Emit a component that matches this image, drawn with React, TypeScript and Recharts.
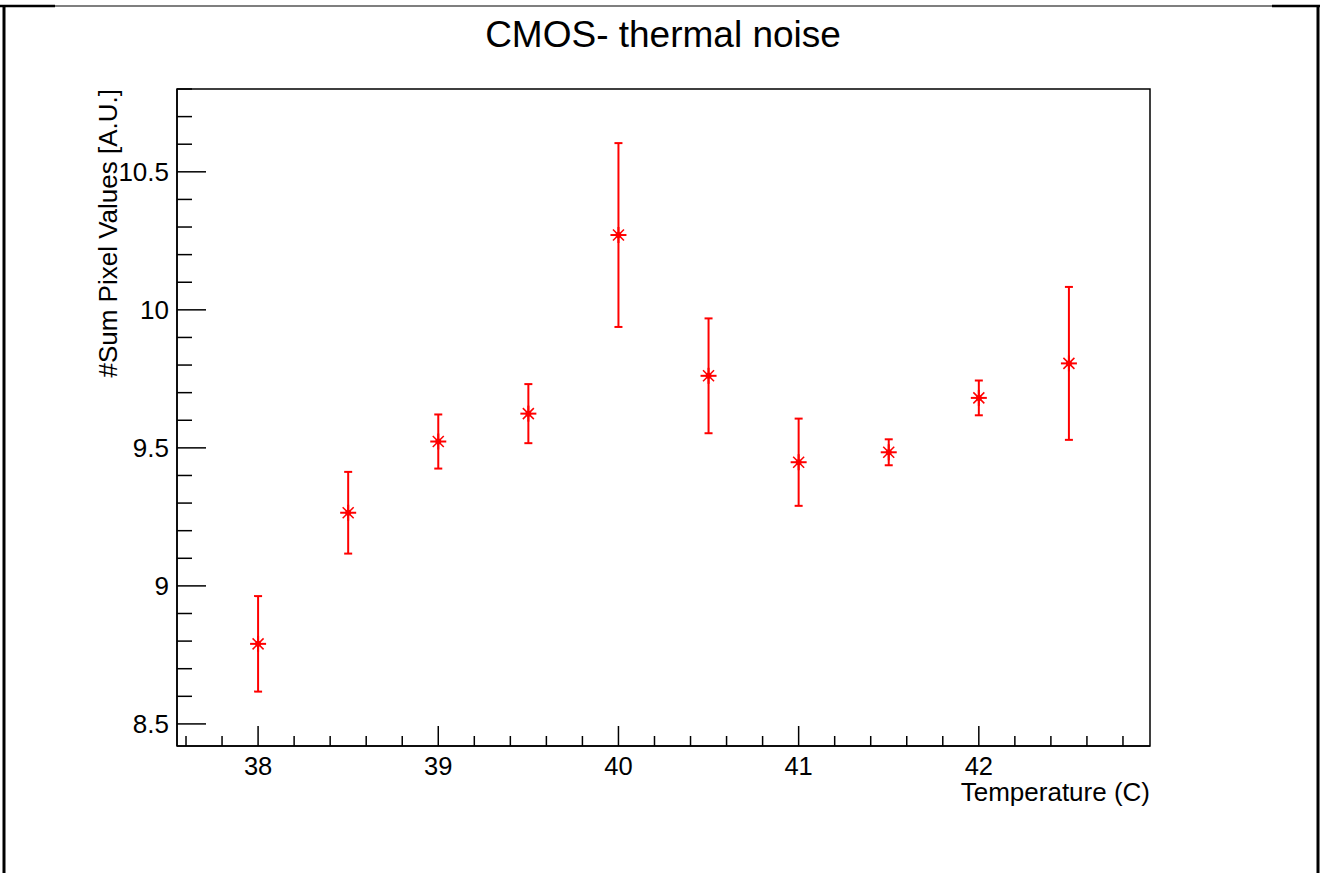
import { ScatterChart, Scatter, XAxis, YAxis, ErrorBar, ReferenceArea, Label } from 'recharts';

// temperature points and the measured sum of pixel values (+/- error)
const temperatures = [38, 38.5, 39, 39.5, 40, 40.5, 41, 41.5, 42, 42.5];
const sumPixel = [8.79, 9.265, 9.523, 9.624, 10.271, 9.761, 9.448, 9.484, 9.681, 9.806];
const sumPixelErr = [0.173, 0.148, 0.098, 0.107, 0.333, 0.208, 0.158, 0.047, 0.063, 0.277];

const xTicks = [
  37.6, 37.8, 38, 38.2, 38.4, 38.6, 38.8, 39, 39.2, 39.4, 39.6, 39.8, 40, 40.2,
  40.4, 40.6, 40.8, 41, 41.2, 41.4, 41.6, 41.8, 42, 42.2, 42.4, 42.6, 42.8,
];
const xLabels = [38, 39, 40, 41, 42];
const yTicks = [
  8.5, 8.6, 8.7, 8.8, 8.9, 9, 9.1, 9.2, 9.3, 9.4, 9.5, 9.6, 9.7, 9.8, 9.9, 10,
  10.1, 10.2, 10.3, 10.4, 10.5, 10.6, 10.7, 10.8,
];
const yLabels = [8.5, 9, 9.5, 10, 10.5];

const X_DOMAIN: [number, number] = [37.55, 42.95];
const Y_DOMAIN: [number, number] = [8.42, 10.8];

const FONT = '"Liberation Sans", Arial, Helvetica, sans-serif';
const RED = '#ff0000';

const data = temperatures.map((t, i) => ({ x: t, y: sumPixel[i], err: sumPixelErr[i] }));

const isLabel = (list: number[], v: number) => list.some((l) => Math.abs(l - v) < 1e-6);

const XTick = (props: any) => {
  const { x, y, payload } = props;
  const major = isLabel(xLabels, payload.value);
  return (
    <g>
      <line x1={x} y1={y} x2={x} y2={y - (major ? 20 : 10)} stroke="#000" strokeWidth={1.5} />
      {major && (
        <text x={x} y={y + 29} textAnchor="middle" fontSize={25.5} fontFamily={FONT} fill="#000">
          {payload.value}
        </text>
      )}
    </g>
  );
};

const YTick = (props: any) => {
  const { x, y, payload } = props;
  const major = isLabel(yLabels, payload.value);
  return (
    <g>
      <line x1={x} y1={y} x2={x + (major ? 29 : 15)} y2={y} stroke="#000" strokeWidth={1.5} />
      {major && (
        <text x={x - 8} y={y} dy="0.36em" textAnchor="end" fontSize={26} fontFamily={FONT} fill="#000">
          {payload.value}
        </text>
      )}
    </g>
  );
};

// ROOT style asterisk marker
const Star = (props: any) => {
  const { cx, cy } = props;
  if (cx == null || cy == null) return null;
  return (
    <g stroke={RED} strokeWidth={2}>
      <line x1={cx - 8} y1={cy} x2={cx + 8} y2={cy} />
      <line x1={cx} y1={cy - 8} x2={cx} y2={cy + 8} />
      <line x1={cx - 5.5} y1={cy - 5.5} x2={cx + 5.5} y2={cy + 5.5} strokeWidth={1.5} />
      <line x1={cx - 5.5} y1={cy + 5.5} x2={cx + 5.5} y2={cy - 5.5} strokeWidth={1.5} />
      <circle cx={cx} cy={cy} r={3} fill={RED} stroke="none" />
    </g>
  );
};

export default function App() {
  return (
    <div style={{ position: 'absolute', left: 0, top: 0, width: 1320, height: 873, background: '#fff' }}>
      <ScatterChart
        width={1320}
        height={873}
        margin={{ top: 89, right: 170, bottom: 67, left: 97 }}
      >
        <XAxis
          type="number"
          dataKey="x"
          domain={X_DOMAIN}
          ticks={xTicks}
          interval={0}
          allowDataOverflow
          height={60}
          tickSize={0}
          tickMargin={0}
          tickLine={false}
          axisLine={{ stroke: '#000', strokeWidth: 1.5 }}
          tick={<XTick />}
        >
          <Label
            content={(p: any) => (
              <text
                x={p.viewBox.x + p.viewBox.width}
                y={p.viewBox.y + 55}
                textAnchor="end"
                fontSize={26}
                fontFamily={FONT}
                fill="#000"
              >
                Temperature (C)
              </text>
            )}
          />
        </XAxis>
        <YAxis
          type="number"
          dataKey="y"
          domain={Y_DOMAIN}
          ticks={yTicks}
          interval={0}
          allowDataOverflow
          width={80}
          tickSize={0}
          tickMargin={0}
          tickLine={false}
          axisLine={{ stroke: '#000', strokeWidth: 1.5 }}
          tick={<YTick />}
        >
          <Label
            content={(p: any) => {
              const tx = p.viewBox.x + 20;
              const ty = p.viewBox.y;
              return (
                <text
                  x={tx}
                  y={ty}
                  transform={`rotate(-90, ${tx}, ${ty})`}
                  textAnchor="end"
                  fontSize={26}
                  fontFamily={FONT}
                  fill="#000"
                >
                  #Sum Pixel Values [A.U.]
                </text>
              );
            }}
          />
        </YAxis>
        <ReferenceArea
          x1={X_DOMAIN[0]}
          x2={X_DOMAIN[1]}
          y1={Y_DOMAIN[0]}
          y2={Y_DOMAIN[1]}
          fill="none"
          fillOpacity={0}
          stroke="#000"
          strokeWidth={1.5}
        />
        <Scatter data={data} shape={<Star />} isAnimationActive={false}>
          <ErrorBar dataKey="err" direction="y" width={4} stroke={RED} strokeWidth={2} />
        </Scatter>
      </ScatterChart>
      <svg
        width={1320}
        height={873}
        style={{ position: 'absolute', left: 0, top: 0, pointerEvents: 'none' }}
      >
        <text x={663} y={47} textAnchor="middle" fontSize={37} fontFamily={FONT} fill="#000">
          CMOS- thermal noise
        </text>
        <line x1={3} y1={6} x2={1319} y2={6} stroke="#000" strokeWidth={1.2} />
        <line x1={0} y1={6} x2={55} y2={6} stroke="#000" strokeWidth={2.5} />
        <line x1={1272} y1={6} x2={1320} y2={6} stroke="#000" strokeWidth={2.5} />
        <line x1={4} y1={5} x2={4} y2={873} stroke="#000" strokeWidth={3} />
        <line x1={1318} y1={5} x2={1318} y2={873} stroke="#000" strokeWidth={3} />
      </svg>
    </div>
  );
}
